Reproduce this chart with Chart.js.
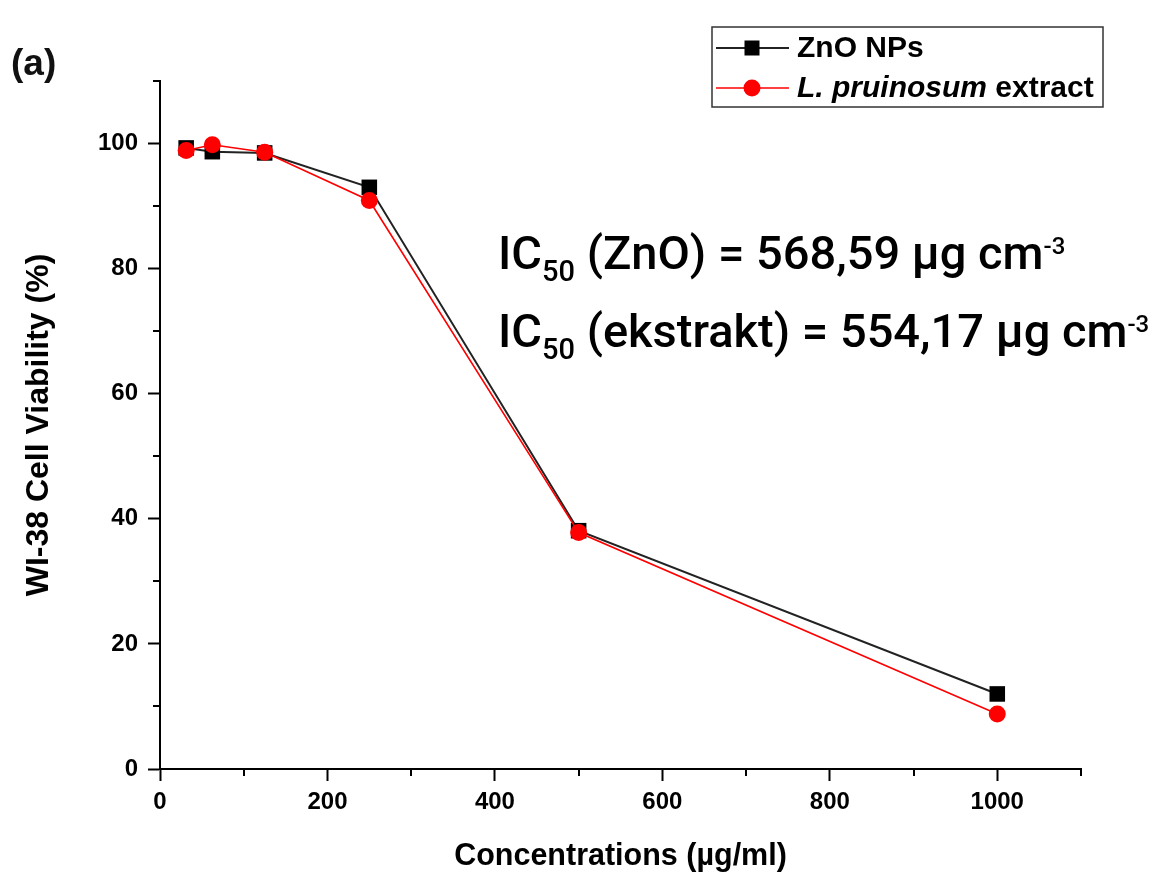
<!DOCTYPE html>
<html>
<head>
<meta charset="utf-8">
<script src="https://cdn.jsdelivr.net/npm/chart.js@4.4.1/dist/chart.umd.min.js"></script>
<style>
  html, body { margin: 0; padding: 0; background: #fff; }
  #wrap { width: 1160px; height: 872px; position: relative; }
</style>
</head>
<body>
<div id="wrap"><canvas id="c" width="1160" height="872"></canvas></div>
<script>
// ---- data ----
const concentrations = [31.25, 62.5, 125, 250, 500, 1000];
const znoViability = [99.3, 98.7, 98.5, 93.0, 38.1, 12.0];
const extractViability = [98.9, 99.8, 98.6, 90.9, 37.8, 8.8];
const seriesLabels = ['ZnO NPs', 'L. pruinosum extract'];
const xTickLabels = [0, 200, 400, 600, 800, 1000];
const yTickLabels = [0, 20, 40, 60, 80, 100];
const ic50Lines = [
  { name: '(ZnO)', value: '568,59' },
  { name: '(ekstrakt)', value: '554,17' }
];

const toPoints = (xs, ys) => xs.map((x, i) => ({ x: x, y: ys[i] }));

const TICK_FONT = { family: '"Liberation Sans", Arial, sans-serif', size: 24, weight: 'bold' };

// minor ticks + legend + annotations
const extras = {
  id: 'extras',
  afterDraw(chart) {
    const ctx = chart.ctx;
    const xs = chart.scales.x, ys = chart.scales.y;
    ctx.save();
    ctx.strokeStyle = '#000';
    ctx.lineWidth = 2;
    // minor ticks x
    for (let v = 100; v <= 1100; v += 200) {
      const px = Math.round(xs.getPixelForValue(v));
      ctx.beginPath(); ctx.moveTo(px, ys.bottom); ctx.lineTo(px, ys.bottom + 7); ctx.stroke();
    }
    // minor ticks y
    for (let v = 10; v <= 110; v += 20) {
      const py = Math.round(ys.getPixelForValue(v));
      ctx.beginPath(); ctx.moveTo(xs.left, py); ctx.lineTo(xs.left - 7, py); ctx.stroke();
    }
    ctx.restore();

    // panel label
    ctx.save();
    ctx.fillStyle = '#111';
    ctx.font = 'bold 37px "Liberation Sans", Arial, sans-serif';
    ctx.textBaseline = 'alphabetic';
    ctx.fillText('(a)', 11, 75);
    ctx.restore();

    // legend
    ctx.save();
    const bx = 712, by = 27, bw = 391, bh = 80;
    ctx.strokeStyle = '#333';
    ctx.lineWidth = 1.5;
    ctx.strokeRect(bx, by, bw, bh);
    const rows = [48, 88];
    chart.data.datasets.forEach((ds, i) => {
      const idx = ds.legendIndex;
      const ry = rows[idx];
      ctx.strokeStyle = ds.borderColor;
      ctx.lineWidth = ds.borderWidth;
      ctx.beginPath(); ctx.moveTo(716, ry); ctx.lineTo(789, ry); ctx.stroke();
      ctx.fillStyle = ds.pointBackgroundColor;
      if (ds.pointStyle === 'rect') {
        const s = 15;
        ctx.fillRect(752 - s / 2, ry - s / 2, s, s);
      } else {
        ctx.beginPath(); ctx.arc(752, ry, 8.5, 0, Math.PI * 2); ctx.fill();
      }
      ctx.fillStyle = '#000';
      ctx.textBaseline = 'middle';
      if (idx === 0) {
        ctx.font = 'bold 30px "Liberation Sans", Arial, sans-serif';
        ctx.fillText(ds.label, 797, ry + 1);
      } else {
        const parts = ds.label.split(' ');
        const ital = parts.slice(0, 2).join(' ');
        const rest = ' ' + parts.slice(2).join(' ');
        ctx.font = 'italic bold 30px "Liberation Sans", Arial, sans-serif';
        ctx.fillText(ital, 797, ry + 1);
        const w = ctx.measureText(ital).width;
        ctx.font = 'bold 30px "Liberation Sans", Arial, sans-serif';
        ctx.fillText(rest, 797 + w, ry + 1);
      }
    });
    ctx.restore();

    // IC50 annotations
    ctx.save();
    ctx.fillStyle = '#000';
    ctx.textBaseline = 'alphabetic';
    const fam = 'Roboto, "Liberation Sans", sans-serif';
    const baselines = [269, 347];
    ic50Lines.forEach((ln, i) => {
      const segs = [
        { t: 'IC', s: 47, dy: 0 },
        { t: '50', s: 29, dy: 12 },
        { t: ' ' + ln.name + ' = ' + ln.value + ' µg cm', s: 47, dy: 0 },
        { t: '-3', s: 24, dy: -15 }
      ];
      let x = 498;
      segs.forEach(sg => {
        ctx.font = '500 ' + sg.s + 'px ' + fam;
        ctx.fillText(sg.t, x, baselines[i] + sg.dy);
        x += ctx.measureText(sg.t).width;
      });
    });
    ctx.restore();
  }
};

const chart = new Chart(document.getElementById('c'), {
  type: 'line',
  data: {
    datasets: [
      {
        label: seriesLabels[0],
        legendIndex: 0,
        data: toPoints(concentrations, znoViability),
        borderColor: '#222',
        backgroundColor: '#000',
        pointBackgroundColor: '#000',
        pointBorderColor: '#000',
        borderWidth: 2,
        pointStyle: 'rect',
        pointRadius: 11,
        pointBorderWidth: 0,
        tension: 0,
        order: 2
      },
      {
        label: seriesLabels[1],
        legendIndex: 1,
        data: toPoints(concentrations, extractViability),
        borderColor: '#ff0000',
        backgroundColor: '#ff0000',
        pointBackgroundColor: '#ff0000',
        pointBorderColor: '#ff0000',
        borderWidth: 1.6,
        pointStyle: 'circle',
        pointRadius: 8.5,
        pointBorderWidth: 0,
        tension: 0,
        order: 1
      }
    ]
  },
  options: {
    responsive: false,
    animation: false,
    devicePixelRatio: 1,
    layout: { padding: { left: 0, right: 79, top: 81, bottom: 0 } },
    plugins: { legend: { display: false }, tooltip: { enabled: false } },
    scales: {
      x: {
        type: 'linear',
        min: 0, max: 1100,
        border: { display: true, color: '#000', width: 2 },
        grid: {
          display: true, drawOnChartArea: false, drawTicks: true, tickLength: 12, tickWidth: 2,
          tickColor: c => (c.tick && xTickLabels.includes(c.tick.value)) ? '#000' : 'rgba(0,0,0,0)'
        },
        ticks: {
          stepSize: 100, autoSkip: false, maxRotation: 0, padding: 7,
          color: '#000', font: TICK_FONT,
          callback: v => xTickLabels.includes(v) ? String(v) : ''
        },
        title: {
          display: true, text: 'Concentrations (µg/ml)', color: '#000',
          font: { family: '"Liberation Sans", Arial, sans-serif', size: 30.5, weight: 'bold', lineHeight: 1 },
          padding: { top: 0, bottom: 0 }
        },
        afterFit: s => { s.height = 103; }
      },
      y: {
        type: 'linear',
        min: 0, max: 110,
        border: { display: true, color: '#000', width: 2 },
        grid: {
          display: true, drawOnChartArea: false, drawTicks: true, tickLength: 12, tickWidth: 2,
          tickColor: c => (c.tick && yTickLabels.includes(c.tick.value)) ? '#000' : 'rgba(0,0,0,0)'
        },
        ticks: {
          stepSize: 10, autoSkip: false, padding: 10,
          color: '#000', font: TICK_FONT,
          callback: v => yTickLabels.includes(v) ? String(v) : ''
        },
        title: {
          display: true, text: 'WI-38 Cell Viability (%)', color: '#000',
          font: { family: '"Liberation Sans", Arial, sans-serif', size: 32, weight: 'bold', lineHeight: 1 },
          padding: { top: 23, bottom: 0 }
        },
        afterFit: s => { s.width = 160; }
      }
    }
  },
  plugins: [extras]
});
</script>
</body>
</html>
